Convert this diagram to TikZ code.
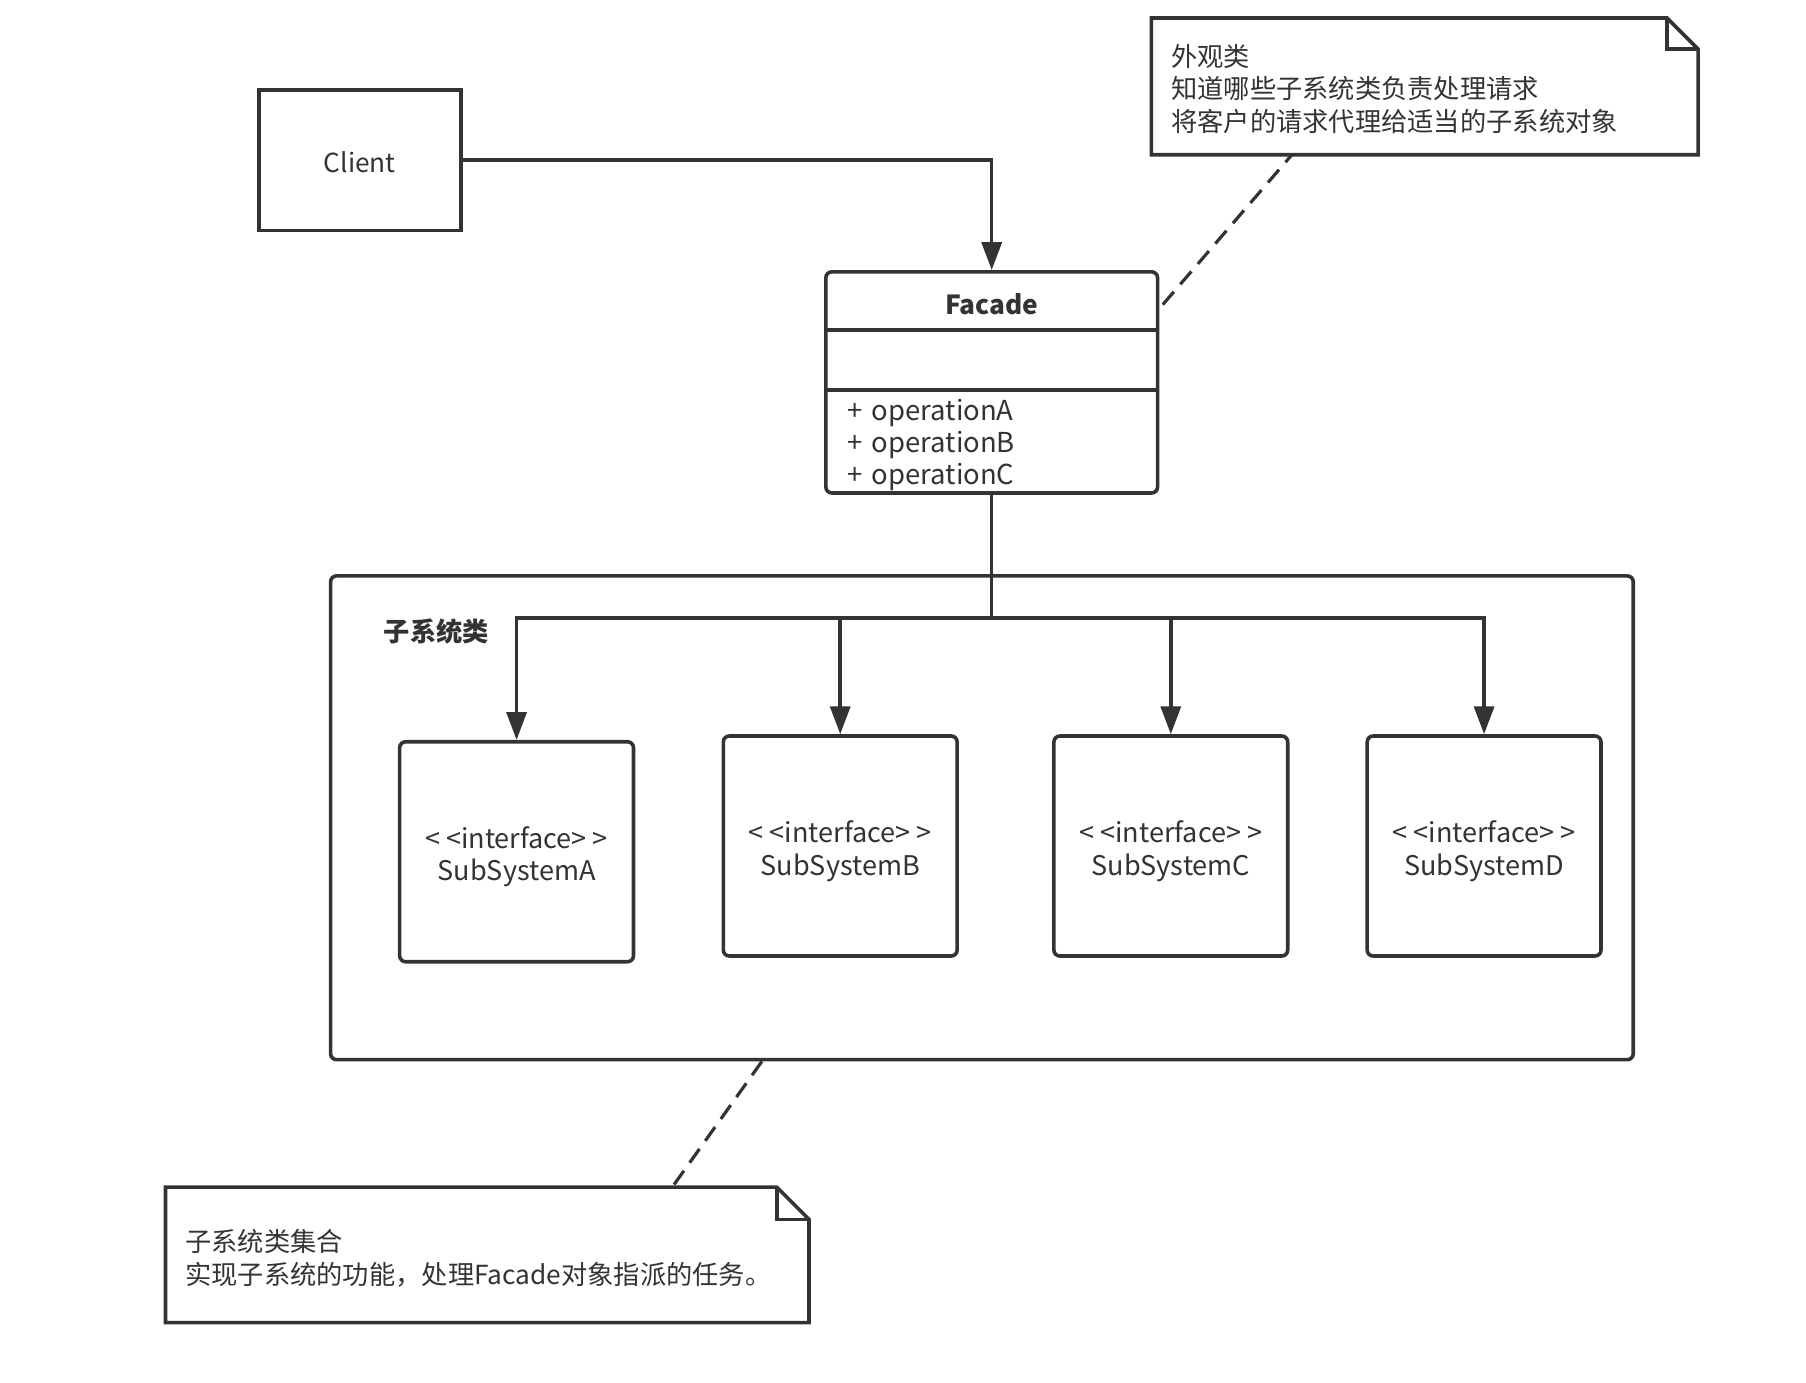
\documentclass[tikz,border=0pt]{standalone}
\usepackage{fontspec}
\setmainfont{Noto Sans CJK SC}
\usetikzlibrary{positioning, calc, arrows.meta}
\definecolor{umlgray}{HTML}{333333}
\newcommand*{\px}{0.579pt}
\tikzset{
 umlline/.style={draw=umlgray, line width=1.8pt},
 umlarrow/.style={umlline, -{Triangle[length=14pt, width=10pt]}},
 noteline/.style={draw=umlgray, line width=1.6pt, dash pattern=on 8.5pt off 5pt},
 txt/.style={text=umlgray, inner sep=0pt, font=\fontsize{13.2pt}{16.2pt}\selectfont},
 drop/.style={execute at begin node={\rule{0pt}{#1}}},
 plainbox/.style={umlline, txt, rectangle, align=center},
 umlbox/.style={plainbox, rounded corners=3pt},
 subbox/.style={umlbox, minimum width=203*\px, minimum height=191*\px, font=\fontsize{13.6pt}{16.2pt}\selectfont},
 notebox/.style={txt, align=left, inner xsep=17*\px}
}
\begin{document}
\begin{tikzpicture}[x=\px, y=-\px]
 \useasboundingbox (0,0) rectangle (1568,1200);
 % client and facade
 \node[plainbox, drop=12.4pt, minimum width=175*\px, minimum height=122*\px] (client) at (312.5,139) {Client};
 \node[umlbox, minimum width=288*\px, minimum height=192*\px] (facade) at (861,332) {};
 \draw[umlline] ($(facade.north west)+(0,52)$) -- ($(facade.north east)+(0,52)$);
 \draw[umlline] ($(facade.north west)+(0,104)$) -- ($(facade.north east)+(0,104)$);
 \node[txt, font=\fontsize{13.2pt}{16.2pt}\selectfont\bfseries] (facadename) at ($(facade.north)+(0,30)$) {Facade};
 \node[txt, anchor=west, align=left, font=\fontsize{13.8pt}{16.2pt}\selectfont] (facadeops) at ($(facade.north west)+(20,152)$) {+\hspace{1.5pt} operationA\\+\hspace{1.5pt} operationB\\+\hspace{1.5pt} operationC};
 \draw[umlarrow] (client) -| (facade);
 % subsystems
 \node[umlbox, minimum width=1131*\px, minimum height=420*\px] (pkg) at (852.5,710) {};
 \node[txt, anchor=west, font=\fontsize{13.2pt}{16.2pt}\selectfont\bfseries] (pkgname) at (333,548) {子系统类};
 \foreach \name/\x/\y in {A/448.5/739.5, B/729.5/734.5, C/1016.5/734.5, D/1288.5/734.5}
  \node[subbox] (sub\name) at (\x,\y) {\rule{0pt}{16.3pt}<\kern3pt<interface>\kern3pt>\\SubSystem\name};
 \coordinate (branch) at ($(facade.south)+(0,107)$);
 \draw[umlline] (facade) -- (branch);
 \foreach \name in {A,B,C,D}
  \draw[umlarrow] (branch) -| (sub\name);
 % notes
 \node[notebox, drop=13.6pt, text width=440*\px, minimum height=118*\px] (facadenote) at (1237,75) {外观类\\知道哪些子系统类负责处理请求\\将客户的请求代理给适当的子系统对象};
 \draw[umlline] (facadenote.north west) -- ($(facadenote.north east)+(-27,0)$) -- ($(facadenote.north east)+(0,27)$) -- (facadenote.south east) -- (facadenote.south west) -- cycle;
 \draw[umlline] ($(facadenote.north east)+(-27,0)$) |- ($(facadenote.north east)+(0,27)$);
 \node[notebox, drop=14.6pt, text width=524*\px, minimum height=117*\px] (pkgnote) at (423,1089.5) {子系统类集合\\实现子系统的功能，处理Facade对象指派的任务。};
 \draw[umlline] (pkgnote.north west) -- ($(pkgnote.north east)+(-28,0)$) -- ($(pkgnote.north east)+(0,28)$) -- (pkgnote.south east) -- (pkgnote.south west) -- cycle;
 \draw[umlline] ($(pkgnote.north east)+(-28,0)$) |- ($(pkgnote.north east)+(0,28)$);
 \draw[noteline] ($(facade.north east)+(3,30)$) -- ($(facadenote.south west)+(122,0)$);
 \draw[noteline] ($(pkg.south west)+(376,0)$) -- ($(pkgnote.north west)+(440,0)$);
\end{tikzpicture}
\end{document}
